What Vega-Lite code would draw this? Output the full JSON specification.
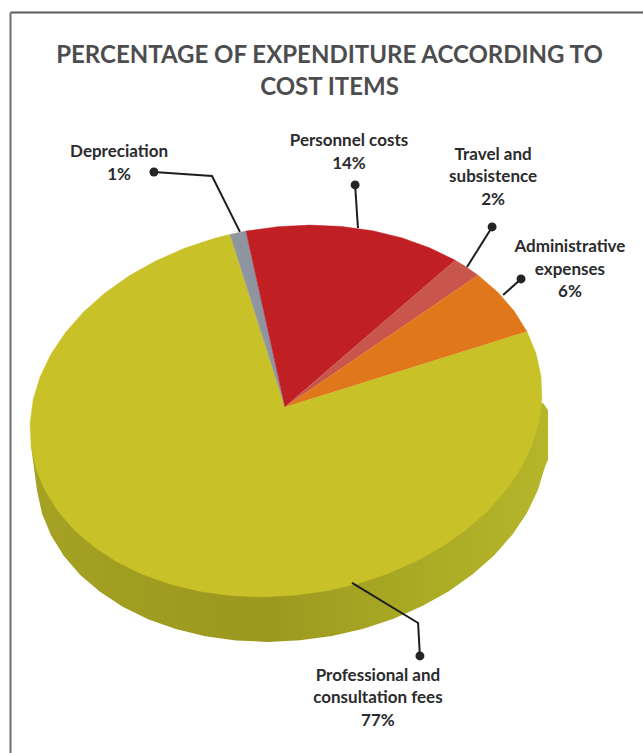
{
  "$schema": "https://vega.github.io/schema/vega-lite/v6.json",
  "autosize": "none",
  "width": 633,
  "height": 741,
  "padding": {"left": 10, "top": 12, "right": 0, "bottom": 0},
  "background": "#ffffff",
  "view": {"stroke": null, "fill": "#ffffff"},
  "title": {
    "text": ["PERCENTAGE OF EXPENDITURE ACCORDING TO", "COST ITEMS"],
    "font": "Lato",
    "fontWeight": "bold",
    "fontSize": 24,
    "lineHeight": 32,
    "color": "#4d4d4f",
    "anchor": "middle",
    "frame": "group",
    "baseline": "top",
    "dx": 3,
    "offset": -88
  },
  "datasets": {
    "wall": [
      {"step": 1, "x": 100.39, "y": 4.32},
      {"step": 2, "x": 102.34, "y": 0.54},
      {"step": 3, "x": 102.34, "y": -26.5},
      {"step": 4, "x": 101.11, "y": -30.35},
      {"step": 5, "x": 98.37, "y": -42.88},
      {"step": 6, "x": 94.12, "y": -55.1},
      {"step": 7, "x": 88.41, "y": -66.85},
      {"step": 8, "x": 81.36, "y": -77.92},
      {"step": 9, "x": 73.05, "y": -88.15},
      {"step": 10, "x": 63.63, "y": -97.38},
      {"step": 11, "x": 53.24, "y": -105.44},
      {"step": 12, "x": 42.05, "y": -112.24},
      {"step": 13, "x": 30.24, "y": -117.64},
      {"step": 14, "x": 17.98, "y": -121.57},
      {"step": 15, "x": 5.48, "y": -123.96},
      {"step": 16, "x": -7.07, "y": -124.8},
      {"step": 17, "x": -19.47, "y": -124.03},
      {"step": 18, "x": -31.53, "y": -121.71},
      {"step": 19, "x": -43.06, "y": -117.84},
      {"step": 20, "x": -53.87, "y": -112.5},
      {"step": 21, "x": -63.79, "y": -105.76},
      {"step": 22, "x": -72.67, "y": -97.75},
      {"step": 23, "x": -80.37, "y": -88.58},
      {"step": 24, "x": -86.76, "y": -78.39},
      {"step": 25, "x": -91.75, "y": -67.34},
      {"step": 26, "x": -95.25, "y": -55.63},
      {"step": 27, "x": -97.22, "y": -43.42},
      {"step": 28, "x": -99.56, "y": -19.1}
    ],
    "slices": [
      {"item": "Professional and consultation fees", "share": 77, "step": 0, "x": -0.4, "y": 2.2},
      {"item": "Professional and consultation fees", "share": 77, "step": 1, "x": 94.09, "y": 43.02},
      {"item": "Professional and consultation fees", "share": 77, "step": 2, "x": 97.59, "y": 31.31},
      {"item": "Professional and consultation fees", "share": 77, "step": 3, "x": 99.56, "y": 19.1},
      {"item": "Professional and consultation fees", "share": 77, "step": 4, "x": 99.95, "y": 6.59},
      {"item": "Professional and consultation fees", "share": 77, "step": 5, "x": 98.77, "y": -6.03},
      {"item": "Professional and consultation fees", "share": 77, "step": 6, "x": 96.03, "y": -18.56},
      {"item": "Professional and consultation fees", "share": 77, "step": 7, "x": 91.78, "y": -30.78},
      {"item": "Professional and consultation fees", "share": 77, "step": 8, "x": 86.07, "y": -42.53},
      {"item": "Professional and consultation fees", "share": 77, "step": 9, "x": 79.02, "y": -53.6},
      {"item": "Professional and consultation fees", "share": 77, "step": 10, "x": 70.71, "y": -63.83},
      {"item": "Professional and consultation fees", "share": 77, "step": 11, "x": 61.29, "y": -73.06},
      {"item": "Professional and consultation fees", "share": 77, "step": 12, "x": 50.9, "y": -81.12},
      {"item": "Professional and consultation fees", "share": 77, "step": 13, "x": 39.71, "y": -87.92},
      {"item": "Professional and consultation fees", "share": 77, "step": 14, "x": 27.9, "y": -93.32},
      {"item": "Professional and consultation fees", "share": 77, "step": 15, "x": 15.64, "y": -97.25},
      {"item": "Professional and consultation fees", "share": 77, "step": 16, "x": 3.14, "y": -99.64},
      {"item": "Professional and consultation fees", "share": 77, "step": 17, "x": -9.41, "y": -100.48},
      {"item": "Professional and consultation fees", "share": 77, "step": 18, "x": -21.81, "y": -99.71},
      {"item": "Professional and consultation fees", "share": 77, "step": 19, "x": -33.87, "y": -97.39},
      {"item": "Professional and consultation fees", "share": 77, "step": 20, "x": -45.4, "y": -93.52},
      {"item": "Professional and consultation fees", "share": 77, "step": 21, "x": -56.21, "y": -88.18},
      {"item": "Professional and consultation fees", "share": 77, "step": 22, "x": -66.13, "y": -81.44},
      {"item": "Professional and consultation fees", "share": 77, "step": 23, "x": -75.01, "y": -73.43},
      {"item": "Professional and consultation fees", "share": 77, "step": 24, "x": -82.71, "y": -64.26},
      {"item": "Professional and consultation fees", "share": 77, "step": 25, "x": -89.1, "y": -54.07},
      {"item": "Professional and consultation fees", "share": 77, "step": 26, "x": -94.09, "y": -43.02},
      {"item": "Professional and consultation fees", "share": 77, "step": 27, "x": -97.59, "y": -31.31},
      {"item": "Professional and consultation fees", "share": 77, "step": 28, "x": -99.56, "y": -19.1},
      {"item": "Professional and consultation fees", "share": 77, "step": 29, "x": -99.95, "y": -6.59},
      {"item": "Professional and consultation fees", "share": 77, "step": 30, "x": -98.77, "y": 6.03},
      {"item": "Professional and consultation fees", "share": 77, "step": 31, "x": -96.03, "y": 18.56},
      {"item": "Professional and consultation fees", "share": 77, "step": 32, "x": -91.78, "y": 30.78},
      {"item": "Professional and consultation fees", "share": 77, "step": 33, "x": -86.07, "y": 42.53},
      {"item": "Professional and consultation fees", "share": 77, "step": 34, "x": -79.02, "y": 53.6},
      {"item": "Professional and consultation fees", "share": 77, "step": 35, "x": -70.71, "y": 63.83},
      {"item": "Professional and consultation fees", "share": 77, "step": 36, "x": -61.29, "y": 73.06},
      {"item": "Professional and consultation fees", "share": 77, "step": 37, "x": -50.9, "y": 81.12},
      {"item": "Professional and consultation fees", "share": 77, "step": 38, "x": -39.71, "y": 87.92},
      {"item": "Professional and consultation fees", "share": 77, "step": 39, "x": -27.9, "y": 93.32},
      {"item": "Professional and consultation fees", "share": 77, "step": 40, "x": -21.81, "y": 95.47},
      {"item": "Depreciation", "share": 1, "step": 0, "x": -0.4, "y": 2.2},
      {"item": "Depreciation", "share": 1, "step": 1, "x": -21.81, "y": 95.47},
      {"item": "Depreciation", "share": 1, "step": 2, "x": -15.64, "y": 97.25},
      {"item": "Personnel costs", "share": 14, "step": 0, "x": -0.4, "y": 2.2},
      {"item": "Personnel costs", "share": 14, "step": 1, "x": -15.64, "y": 97.25},
      {"item": "Personnel costs", "share": 14, "step": 2, "x": -3.14, "y": 99.64},
      {"item": "Personnel costs", "share": 14, "step": 3, "x": 9.41, "y": 100.48},
      {"item": "Personnel costs", "share": 14, "step": 4, "x": 21.81, "y": 99.71},
      {"item": "Personnel costs", "share": 14, "step": 5, "x": 33.87, "y": 97.39},
      {"item": "Personnel costs", "share": 14, "step": 6, "x": 45.4, "y": 93.52},
      {"item": "Personnel costs", "share": 14, "step": 7, "x": 56.21, "y": 88.18},
      {"item": "Personnel costs", "share": 14, "step": 8, "x": 66.13, "y": 81.44},
      {"item": "Travel and subsistence", "share": 2, "step": 0, "x": -0.4, "y": 2.2},
      {"item": "Travel and subsistence", "share": 2, "step": 1, "x": 66.13, "y": 81.44},
      {"item": "Travel and subsistence", "share": 2, "step": 2, "x": 70.71, "y": 77.59},
      {"item": "Travel and subsistence", "share": 2, "step": 3, "x": 75.01, "y": 73.43},
      {"item": "Administrative expenses", "share": 6, "step": 0, "x": -0.4, "y": 2.2},
      {"item": "Administrative expenses", "share": 6, "step": 1, "x": 75.01, "y": 73.43},
      {"item": "Administrative expenses", "share": 6, "step": 2, "x": 82.71, "y": 64.26},
      {"item": "Administrative expenses", "share": 6, "step": 3, "x": 89.1, "y": 54.07},
      {"item": "Administrative expenses", "share": 6, "step": 4, "x": 94.09, "y": 43.02}
    ],
    "leaders": [
      {"item": "Depreciation", "step": 0, "x": -51.6, "y": 129.2},
      {"item": "Depreciation", "step": 1, "x": -28.9, "y": 127.0},
      {"item": "Depreciation", "step": 2, "x": -18.0, "y": 96.8},
      {"item": "Personnel costs", "step": 0, "x": 27.0, "y": 122.2},
      {"item": "Personnel costs", "step": 1, "x": 28.1, "y": 98.9},
      {"item": "Travel and subsistence", "step": 0, "x": 80.5, "y": 99.5},
      {"item": "Travel and subsistence", "step": 1, "x": 70.7, "y": 77.8},
      {"item": "Administrative expenses", "step": 0, "x": 91.8, "y": 71.4},
      {"item": "Administrative expenses", "step": 1, "x": 84.8, "y": 62.7},
      {"item": "Professional and consultation fees", "step": 0, "x": 25.8, "y": -92.9},
      {"item": "Professional and consultation fees", "step": 1, "x": 51.6, "y": -114.6},
      {"item": "Professional and consultation fees", "step": 2, "x": 52.3, "y": -132.4}
    ],
    "dots": [
      {"item": "Depreciation", "x": -51.6, "y": 129.2},
      {"item": "Personnel costs", "x": 27.0, "y": 122.2},
      {"item": "Travel and subsistence", "x": 80.5, "y": 99.5},
      {"item": "Administrative expenses", "x": 91.8, "y": 71.4},
      {"item": "Professional and consultation fees", "x": 52.3, "y": -132.4}
    ],
    "labels": [
      {"item": "Depreciation", "lines": ["Depreciation", "1%"], "x": -65.2, "y": 140.0},
      {"item": "Personnel costs", "lines": ["Personnel costs", "14%"], "x": 24.6, "y": 145.9},
      {"item": "Travel and subsistence", "lines": ["Travel and", "subsistence", "2%"], "x": 80.9, "y": 138.4},
      {"item": "Administrative expenses", "lines": ["Administrative", "expenses", "6%"], "x": 110.9, "y": 88.6},
      {"item": "Professional and consultation fees", "lines": ["Professional and", "consultation fees", "77%"], "x": 35.9, "y": -143.2}
    ]
  },
  "encoding": {
    "x": {
      "field": "x",
      "type": "quantitative",
      "axis": {"orient": "top", "domain": true, "domainColor": "#58595b", "domainWidth": 2, "ticks": false, "labels": false, "grid": false, "title": null},
      "scale": {"domain": [-107.81, 139.45], "nice": false, "zero": false}
    },
    "y": {
      "field": "y",
      "type": "quantitative",
      "axis": {"orient": "left", "domain": true, "domainColor": "#6d6e71", "domainWidth": 2, "ticks": false, "labels": false, "grid": false, "title": null},
      "scale": {"domain": [-184.86, 215.68], "nice": false, "zero": false}
    }
  },
  "layer": [
    {
      "data": {"name": "wall"},
      "mark": {
        "type": "line",
        "strokeWidth": 0,
        "interpolate": "linear",
        "fill": {
          "x1": 0, "y1": 0, "x2": 1, "y2": 0,
          "gradient": "linear",
          "stops": [
            {"offset": 0, "color": "#a5a122"},
            {"offset": 0.45, "color": "#9c9820"},
            {"offset": 0.75, "color": "#aaaa24"},
            {"offset": 1, "color": "#b5b62a"}
          ]
        }
      },
      "encoding": {"order": {"field": "step", "type": "quantitative"}}
    },
    {
      "data": {"name": "slices"},
      "mark": {"type": "line", "strokeWidth": 0.5, "interpolate": "linear"},
      "encoding": {
        "order": {"field": "step", "type": "quantitative"},
        "fill": {
          "field": "item",
          "type": "nominal",
          "legend": null,
          "scale": {
            "domain": ["Professional and consultation fees", "Depreciation", "Personnel costs", "Travel and subsistence", "Administrative expenses"],
            "range": ["#c8c128", "#8f95a0", "#c01f24", "#c9564d", "#e0781b"]
          }
        },
        "stroke": {
          "field": "item",
          "type": "nominal",
          "legend": null,
          "scale": {
            "domain": ["Professional and consultation fees", "Depreciation", "Personnel costs", "Travel and subsistence", "Administrative expenses"],
            "range": ["#c8c128", "#8f95a0", "#c01f24", "#c9564d", "#e0781b"]
          }
        }
      }
    },
    {
      "data": {"name": "leaders"},
      "mark": {"type": "line", "color": "#1e1e20", "strokeWidth": 2},
      "encoding": {
        "detail": {"field": "item", "type": "nominal"},
        "order": {"field": "step", "type": "quantitative"}
      }
    },
    {
      "data": {"name": "dots"},
      "mark": {"type": "point", "shape": "circle", "filled": true, "color": "#242426", "size": 80, "opacity": 1},
      "encoding": {}
    },
    {
      "data": {"name": "labels"},
      "mark": {
        "type": "text",
        "font": "Lato",
        "fontWeight": "bold",
        "fontSize": 17,
        "lineHeight": 22.5,
        "color": "#2b2b2d",
        "align": "center",
        "baseline": "middle"
      },
      "encoding": {"text": {"field": "lines"}}
    }
  ]
}
